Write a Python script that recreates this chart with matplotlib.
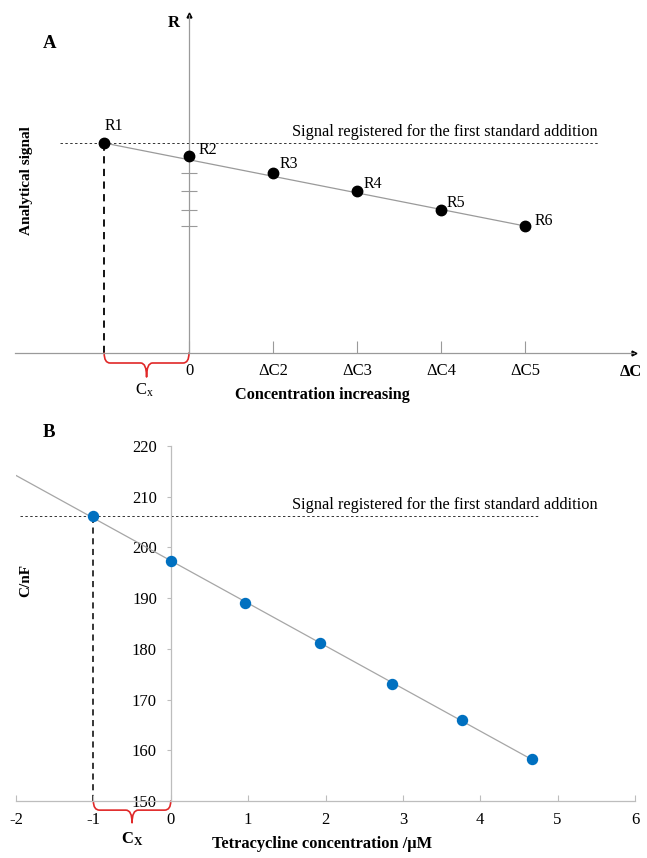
import matplotlib.pyplot as plt
import numpy as np
from matplotlib.path import Path
from matplotlib.patches import PathPatch

plt.rcParams['font.family'] = ['Liberation Serif', 'DejaVu Serif']
plt.rcParams['mathtext.fontset'] = 'custom'
plt.rcParams['mathtext.rm'] = 'Liberation Serif'
plt.rcParams['mathtext.it'] = 'Liberation Serif:italic'
plt.rcParams['mathtext.bf'] = 'Liberation Serif:bold'
plt.rcParams['axes.unicode_minus'] = False

# Panel A - schematic (x in addition steps, y in arbitrary signal units)
a_x = [-1.01, 0, 1, 2, 3, 4]
a_y = [21.0, 19.7, 18.0, 16.2, 14.3, 12.7]
a_names = ['R1', 'R2', 'R3', 'R4', 'R5', 'R6']
a_ticks = [0, 1, 2, 3, 4]
a_ticklabels = ['0', 'ΔC2', 'ΔC3', 'ΔC4', 'ΔC5']
# label offsets in pixels for R1..R6
a_offsets = [(10, 17), (19, 6), (16, 9), (16, 7), (15, 7), (19, 5)]

# Panel B - tetracycline data
b_x = [-1.0, 0.0, 0.96, 1.93, 2.86, 3.77, 4.67]
b_y = [206.1, 197.3, 189.0, 181.2, 173.1, 166.0, 158.2]
b_xticks = list(range(-2, 7))
b_yticks = list(range(150, 230, 10))

signal_text = 'Signal registered for the first standard addition'


def brace(ax, x0, x1, y0, h1, h2, r, color='#e02828'):
    # curly brace hanging below y0 between x0 and x1
    xm = (x0 + x1) / 2
    verts = [(x0, y0), (x0, y0 - h1), (x0 + r, y0 - h1),
             (xm - r, y0 - h1), (xm, y0 - h1), (xm, y0 - h2),
             (xm, y0 - h1), (xm + r, y0 - h1),
             (x1 - r, y0 - h1), (x1, y0 - h1), (x1, y0)]
    codes = [Path.MOVETO, Path.CURVE3, Path.CURVE3,
             Path.LINETO, Path.CURVE3, Path.CURVE3,
             Path.CURVE3, Path.CURVE3,
             Path.LINETO, Path.CURVE3, Path.CURVE3]
    p = PathPatch(Path(verts, codes), fill=False, edgecolor=color, lw=1.2,
                  clip_on=False, capstyle='round', joinstyle='round')
    ax.add_patch(p)


fig = plt.figure(figsize=(6.47, 8.58), dpi=100)

# ---------------- Panel A ----------------
axA = fig.add_axes([15/647, 1 - 353/858, 619/647, 338/858])
axA.set_xlim(-174/84, 445/84)
axA.set_ylim(0, 33.8)
for s in ['top', 'right']:
    axA.spines[s].set_visible(False)
axA.spines['left'].set_position(('data', 0))
axA.spines['left'].set_color('#9a9a9a')
axA.spines['bottom'].set_color('#9a9a9a')
axA.spines['left'].set_linewidth(0.9)
axA.spines['bottom'].set_linewidth(0.9)
axA.plot(1, 0, '>', color='k', ms=3.5, transform=axA.get_yaxis_transform(), clip_on=False)
axA.plot(0, 1, '^', color='k', ms=3.5, transform=axA.get_xaxis_transform(), clip_on=False)

axA.set_xticks(a_ticks, a_ticklabels)
axA.tick_params(axis='x', direction='in', length=9, width=0.8, pad=7,
                color='#9a9a9a', labelsize=12)
axA.set_yticks(a_y[2:])
axA.set_yticklabels([])
axA.tick_params(axis='y', direction='inout', length=11, width=0.8, color='#9a9a9a')

axA.plot([a_x[0], a_x[-1]], [a_y[0], a_y[-1]], color='#9a9a9a', lw=0.9, zorder=2)
axA.plot(a_x, a_y, 'o', color='k', ms=7.5, zorder=3)
for name, x, y, off in zip(a_names, a_x, a_y, a_offsets):
    axA.annotate(name, (x, y), xytext=off, textcoords='offset pixels',
                 ha='center', va='center', fontsize=11.5)

axA.plot([-1.54, 4.87], [a_y[0], a_y[0]], color='#333333', lw=0.7,
         ls=(0, (2.5, 2.5)), zorder=1)
axA.text(4.86, a_y[0] + 0.35, signal_text, ha='right', va='bottom', fontsize=11.8)
axA.plot([a_x[0], a_x[0]], [0, a_y[0]], color='k', lw=1.3, ls=(0, (4, 3)), zorder=1)

brace(axA, a_x[0], 0, 0, 1.0, 2.4, 0.07)
axA.text(a_x[0] / 2 - 0.03, -3.7, r'C$_\mathrm{x}$', ha='center', va='center', fontsize=12)

axA.set_ylabel('Analytical signal', fontweight='bold', fontsize=11)
axA.yaxis.set_label_coords(0.029, 0.51)
axA.set_xlabel('Concentration increasing', fontweight='bold', fontsize=11.7)
axA.xaxis.set_label_coords(0.496, -0.1)

fig.text(50/647, 1 - 43/858, 'A', fontweight='bold', fontsize=13.5, ha='center', va='center')
fig.text(174/647, 1 - 23/858, 'R', fontweight='bold', fontsize=12, ha='center', va='center')
fig.text(631/647, 1 - 372/858, 'ΔC', fontweight='bold', fontsize=12, ha='center', va='center')

# ---------------- Panel B ----------------
axB = fig.add_axes([16/647, 1 - 801/858, 619/647, 355/858])
axB.set_xlim(-2, 6)
axB.set_ylim(150, 220)
for s in ['top', 'right']:
    axB.spines[s].set_visible(False)
axB.spines['left'].set_position(('data', 0))
axB.spines['left'].set_color('#bdbdbd')
axB.spines['bottom'].set_color('#bdbdbd')
axB.spines['left'].set_linewidth(0.9)
axB.spines['bottom'].set_linewidth(0.9)

axB.set_xticks(b_xticks)
axB.set_yticks(b_yticks)
axB.tick_params(axis='x', direction='in', length=4, width=0.8, pad=8,
                color='#bdbdbd', labelsize=12)
axB.tick_params(axis='y', direction='out', length=3, width=0.8, pad=7,
                color='#bdbdbd', labelsize=12)

coef = np.polyfit(b_x, b_y, 1)
fit_x = np.array([-2, b_x[-1]])
axB.plot(fit_x, np.polyval(coef, fit_x), color='#a6a6a6', lw=0.9, zorder=2)
axB.plot(b_x, b_y, 'o', color='#0070c0', ms=7.2, zorder=3)

axB.plot([-1.95, 4.75], [b_y[0], b_y[0]], color='#333333', lw=0.7,
         ls=(0, (2.5, 2.5)), zorder=1)
axB.text(5.52, b_y[0] + 0.7, signal_text, ha='right', va='bottom', fontsize=11.8)
axB.plot([b_x[0], b_x[0]], [150, b_y[0]], color='k', lw=1.1, ls=(0, (4, 3)), zorder=1)

brace(axB, b_x[0], 0, 150, 1.8, 4.3, 0.08)
axB.text(b_x[0] / 2, 142.5, r'$\mathbf{C_X}$', ha='center', va='center', fontsize=12)

axB.set_ylabel('C/nF', fontweight='bold', fontsize=11)
axB.yaxis.set_label_coords(0.027, 0.62)
axB.set_xlabel('Tetracycline concentration /μM', fontweight='bold', fontsize=11.8)
axB.xaxis.set_label_coords(0.494, -0.1)

fig.text(49/647, 1 - 432/858, 'B', fontweight='bold', fontsize=13.5, ha='center', va='center')

fig.savefig('out.png', dpi=100)
